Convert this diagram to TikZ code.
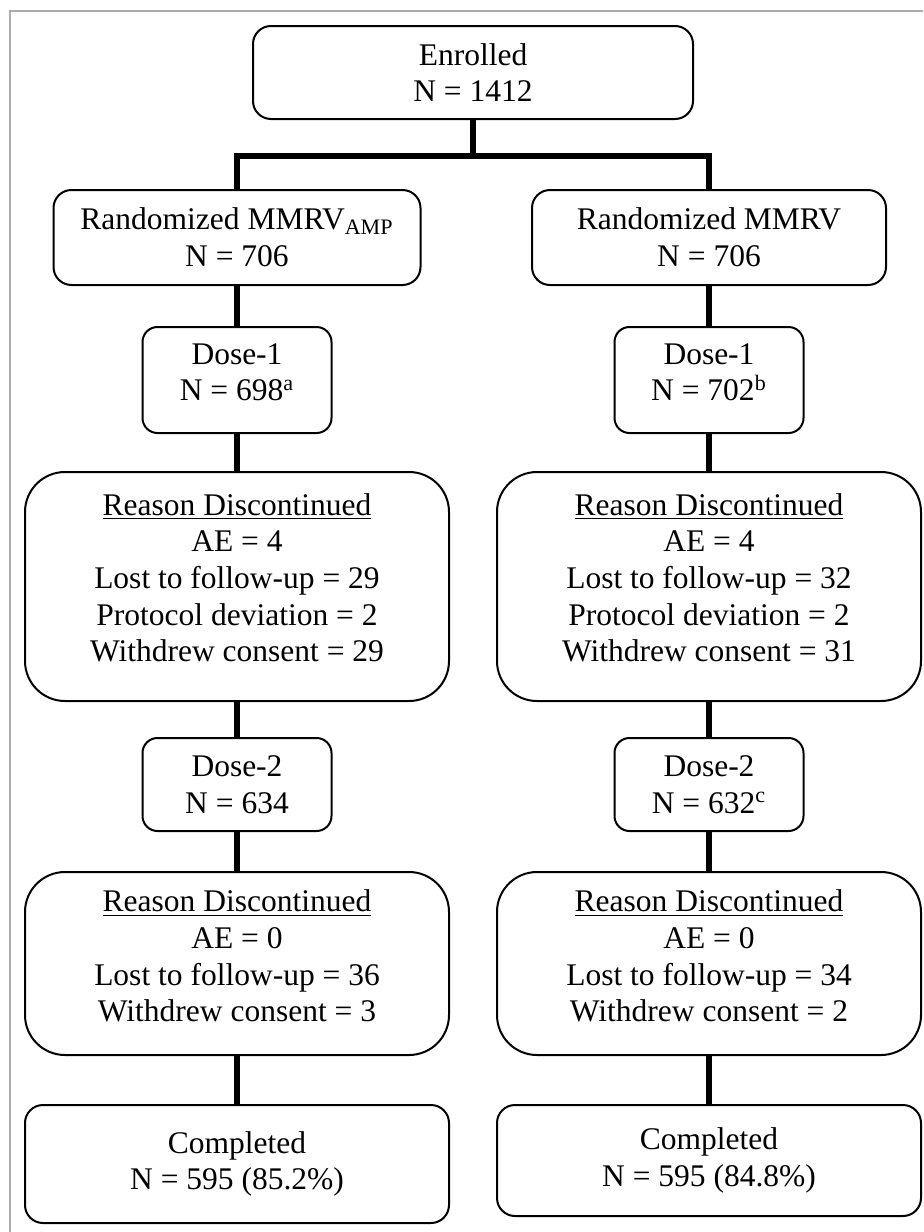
\documentclass[tikz,border=0pt]{standalone}
\usepackage{fontspec}
\setmainfont{Liberation Serif}
\usetikzlibrary{positioning, calc}

\begin{document}
\begin{tikzpicture}[x=0.5pt, y=-0.5pt,
                font=\fontsize{15.75}{18.35}\selectfont,
                stagebox/.style={draw, line width=1pt, rounded corners=9pt, align=center, inner sep=0pt},
                dosebox/.style={stagebox, rounded corners=7.5pt, minimum width=94.5pt},
                reasonbox/.style={stagebox, rounded corners=20pt, minimum width=212pt},
                conn/.style={line width=3pt}]
                \useasboundingbox (0,0) rectangle (923,1232);
                \draw[gray!65, line width=0.8pt] (923,11) -- (10,11) -- (10,1232);
                \node[stagebox, minimum width=220pt, minimum height=46.5pt] (enr) at (473,72.5) {Enrolled\\N = 1412};
                \node[stagebox, minimum width=183.5pt, minimum height=47.5pt] (randA) at (237,237.5) {Randomized MMRV\textsubscript{AMP}\\N = 706};
                \node[stagebox, minimum width=177pt, minimum height=47.5pt] (randB) at (709,237.5) {Randomized MMRV\\N = 706};
                \node[dosebox, minimum height=53pt, text depth=8pt] (doseA1) at (237,380) {Dose-1\\N = 698\textsuperscript{a}};
                \node[dosebox, minimum height=53pt, text depth=8pt] (doseB1) at (709,380) {Dose-1\\N = 702\textsuperscript{b}};
                \node[reasonbox, minimum height=114.5pt, text depth=9pt] (whyA1) at (237,586.5) {\underline{Reason Discontinued}\\AE = 4\\Lost to follow-up = 29\\Protocol deviation = 2\\Withdrew consent = 29};
                \node[reasonbox, minimum height=114.5pt, text depth=9pt] (whyB1) at (709,586.5) {\underline{Reason Discontinued}\\AE = 4\\Lost to follow-up = 32\\Protocol deviation = 2\\Withdrew consent = 31};
                \node[dosebox, minimum height=46.5pt] (doseA2) at (237,784.5) {Dose-2\\N = 634};
                \node[dosebox, minimum height=46.5pt] (doseB2) at (709,784.5) {Dose-2\\N = 632\textsuperscript{c}};
                \node[reasonbox, minimum height=91.5pt, text depth=7.5pt] (whyA2) at (237,963.5) {\underline{Reason Discontinued}\\AE = 0\\Lost to follow-up = 36\\Withdrew consent = 3};
                \node[reasonbox, minimum height=91.5pt, text depth=7.5pt] (whyB2) at (709,963.5) {\underline{Reason Discontinued}\\AE = 0\\Lost to follow-up = 34\\Withdrew consent = 2};
                \node[stagebox, minimum width=212pt, minimum height=59pt] (doneA) at (237,1164) {Completed\\N = 595 (85.2\%)};
                \node[stagebox, minimum width=212pt, minimum height=55.5pt] (doneB) at (709,1160.5) {Completed\\N = 595 (84.8\%)};
                \coordinate (split) at (473,156);
                \draw[conn] (enr.south) -- (split);
                \draw[conn] (randA.north) |- (split) -| (randB.north);
                \draw[conn] (randA) -- (doseA1);
                \draw[conn] (doseA1) -- (whyA1);
                \draw[conn] (whyA1) -- (doseA2);
                \draw[conn] (doseA2) -- (whyA2);
                \draw[conn] (whyA2) -- (doneA);
                \draw[conn] (randB) -- (doseB1);
                \draw[conn] (doseB1) -- (whyB1);
                \draw[conn] (whyB1) -- (doseB2);
                \draw[conn] (doseB2) -- (whyB2);
                \draw[conn] (whyB2) -- (doneB);
            \end{tikzpicture}
\end{document}
